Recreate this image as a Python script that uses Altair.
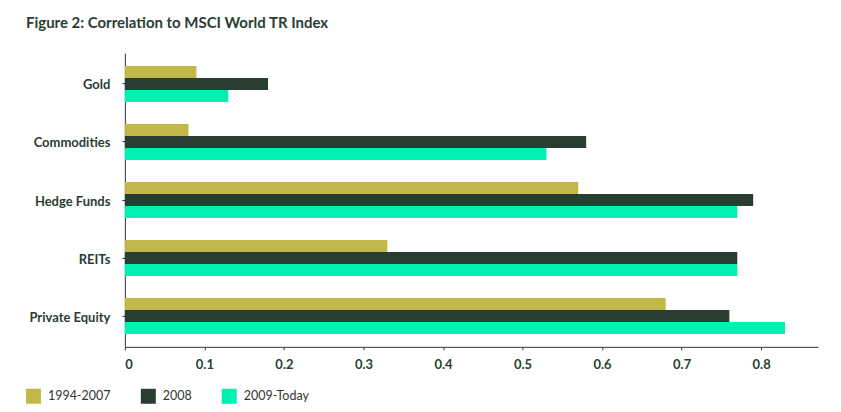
import altair as alt
import pandas as pd

categories = ["Gold", "Commodities", "Hedge Funds", "REITs", "Private Equity"]
series = ["1994-2007", "2008", "2009-Today"]
v_1994_2007 = [0.09, 0.08, 0.57, 0.33, 0.68]
v_2008 = [0.18, 0.58, 0.79, 0.77, 0.76]
v_2009_today = [0.13, 0.53, 0.77, 0.77, 0.83]
x_ticks = [0, 0.1, 0.2, 0.3, 0.4, 0.5, 0.6, 0.7, 0.8]
colors = ["#C2B84A", "#293D33", "#00F0B4"]

rows = []
for s, vals in zip(series, [v_1994_2007, v_2008, v_2009_today]):
    for c, v in zip(categories, vals):
        rows.append({"category": c, "series": s, "value": v})
df = pd.DataFrame(rows)

FONT = "Lato"
TXT = "#293D33"

chart = alt.Chart(df).mark_bar().encode(
    y=alt.Y("category:N", sort=categories, title=None,
            scale=alt.Scale(paddingInner=0.38, paddingOuter=0.22),
            axis=alt.Axis(labelFont=FONT, labelFontWeight="bold", labelFontSize=13,
                          labelColor=TXT, labelPadding=12, tickSize=3, labelOffset=1.5,
                          tickColor="#333333", domainColor="#333333")),
    yOffset=alt.YOffset("series:N", sort=series),
    x=alt.X("value:Q", title=None,
            scale=alt.Scale(domain=[0, 0.8715], nice=False),
            axis=alt.Axis(values=x_ticks, grid=False, labelFont=FONT, labelFontWeight="bold",
                          labelFontSize=13, labelColor=TXT, labelPadding=9, tickSize=3,
                          tickColor="#333333", domainColor="#333333",
                          labelExpr="datum.value == 0 ? '0' : format(datum.value, '.1f')")),
    color=alt.Color("series:N", sort=series, title=None,
                    scale=alt.Scale(domain=series, range=colors),
                    legend=alt.Legend(orient="none", legendX=-99, legendY=336,
                                      direction="horizontal", symbolType="square",
                                      symbolSize=225, symbolStrokeWidth=0,
                                      labelFont=FONT, labelFontSize=12.5, labelColor="#333333",
                                      columnPadding=30, labelOffset=7)),
).properties(
    width=694, height=294,
    background="white",
    title=alt.TitleParams("Figure 2: Correlation to MSCI World TR Index", anchor="start",
                          frame="group", dx=-99, offset=22, font=FONT, fontSize=15,
                          fontWeight="bold", color=TXT),
    padding={"left": 125, "top": 53, "right": 23, "bottom": 65},
    autosize=alt.AutoSizeParams(type="none"),
).configure_view(strokeWidth=0)

chart.save("out.html", embed_options={"renderer": "svg", "actions": False})
